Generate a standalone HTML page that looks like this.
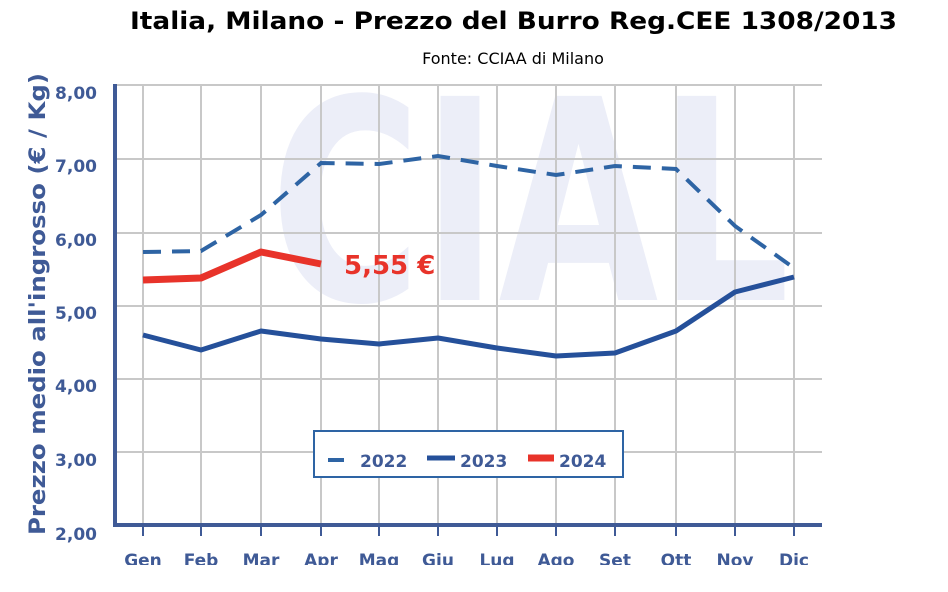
<!DOCTYPE html>
<html><head><meta charset="utf-8"><style>body{margin:0;background:#fff}svg{display:block}</style></head><body>
<svg width="948" height="592" viewBox="0 0 948 592" xmlns="http://www.w3.org/2000/svg" font-family="'DejaVu Sans', 'Liberation Sans', sans-serif">
<text x="130" y="29" textLength="767" lengthAdjust="spacingAndGlyphs" font-size="24" font-weight="bold" fill="#000">Italia, Milano - Prezzo del Burro Reg.CEE 1308/2013</text>
<text x="513" y="64" text-anchor="middle" font-size="16" fill="#000">Fonte: CCIAA di Milano</text>
<text x="270" y="300" textLength="520" lengthAdjust="spacingAndGlyphs" font-size="280" font-weight="bold" fill="#eceef8">CIAL</text>
<g stroke="#c8c8c8" stroke-width="2">
<line x1="115" y1="85" x2="822" y2="85"/><line x1="115" y1="159" x2="822" y2="159"/><line x1="115" y1="233" x2="822" y2="233"/><line x1="115" y1="306" x2="822" y2="306"/><line x1="115" y1="379" x2="822" y2="379"/><line x1="115" y1="452" x2="822" y2="452"/>
<line x1="143" y1="85" x2="143" y2="525"/><line x1="201" y1="85" x2="201" y2="525"/><line x1="261" y1="85" x2="261" y2="525"/><line x1="321" y1="85" x2="321" y2="525"/><line x1="379" y1="85" x2="379" y2="525"/><line x1="438" y1="85" x2="438" y2="525"/><line x1="497" y1="85" x2="497" y2="525"/><line x1="556" y1="85" x2="556" y2="525"/><line x1="615" y1="85" x2="615" y2="525"/><line x1="676" y1="85" x2="676" y2="525"/><line x1="735" y1="85" x2="735" y2="525"/><line x1="794" y1="85" x2="794" y2="525"/>
</g>
<g stroke="#3f5a96" stroke-width="2">
<line x1="143" y1="525" x2="143" y2="536"/><line x1="201" y1="525" x2="201" y2="536"/><line x1="261" y1="525" x2="261" y2="536"/><line x1="321" y1="525" x2="321" y2="536"/><line x1="379" y1="525" x2="379" y2="536"/><line x1="438" y1="525" x2="438" y2="536"/><line x1="497" y1="525" x2="497" y2="536"/><line x1="556" y1="525" x2="556" y2="536"/><line x1="615" y1="525" x2="615" y2="536"/><line x1="676" y1="525" x2="676" y2="536"/><line x1="735" y1="525" x2="735" y2="536"/><line x1="794" y1="525" x2="794" y2="536"/>
</g>
<line x1="115" y1="84" x2="115" y2="527" stroke="#3f5a96" stroke-width="4"/>
<line x1="113" y1="525" x2="822" y2="525" stroke="#3f5a96" stroke-width="4"/>
<g font-size="17" font-weight="bold" fill="#3f5a96" text-anchor="end">
<text x="97" y="99">8,00</text><text x="97" y="172">7,00</text><text x="97" y="246">6,00</text><text x="97" y="319">5,00</text><text x="97" y="392">4,00</text><text x="97" y="466">3,00</text><text x="97" y="540">2,00</text>
</g>
<text transform="translate(45,535) rotate(-90)" textLength="462" lengthAdjust="spacingAndGlyphs" font-size="22" font-weight="bold" fill="#3f5a96">Prezzo medio all'ingrosso (€ / Kg)</text>
<svg x="0" y="0" width="948" height="565" overflow="hidden">
<g font-size="17" font-weight="bold" fill="#3f5a96" text-anchor="middle">
<text x="143" y="566">Gen</text><text x="201" y="566">Feb</text><text x="261" y="566">Mar</text><text x="321" y="566">Apr</text><text x="379" y="566">Mag</text><text x="438" y="566">Giu</text><text x="497" y="566">Lug</text><text x="556" y="566">Ago</text><text x="615" y="566">Set</text><text x="676" y="566">Ott</text><text x="735" y="566">Nov</text><text x="794" y="566">Dic</text>
</g></svg>
<polyline fill="none" stroke="#2e64a4" stroke-width="4" stroke-dasharray="18,11" points="143,252 201,251 261,215 321,163 379,164 438,156 497,166 556,175 615,166 676,169 735,226 794,268"/>
<polyline fill="none" stroke="#25509a" stroke-width="5" stroke-linejoin="round" points="143,335 201,350 261,331 321,339 379,344 438,338 497,348 556,356 615,353 676,331 735,292 794,277"/>
<polyline fill="none" stroke="#e8332a" stroke-width="7" stroke-linejoin="round" points="143,280 201,278 261,252 321,264"/>
<text x="344" y="274" font-size="26" font-weight="bold" fill="#e8332a">5,55 €</text>
<rect x="314" y="431" width="309" height="46" fill="#fff" stroke="#2e64a4" stroke-width="2"/>
<line x1="328" y1="460" x2="344" y2="460" stroke="#2e64a4" stroke-width="4"/>
<text x="360" y="467" font-size="17" font-weight="bold" fill="#3f5a96">2022</text>
<line x1="427" y1="458" x2="455" y2="458" stroke="#25509a" stroke-width="5"/>
<text x="460" y="467" font-size="17" font-weight="bold" fill="#3f5a96">2023</text>
<line x1="528" y1="458" x2="554" y2="458" stroke="#e8332a" stroke-width="7"/>
<text x="559" y="467" font-size="17" font-weight="bold" fill="#3f5a96">2024</text>
</svg>
</body></html>
